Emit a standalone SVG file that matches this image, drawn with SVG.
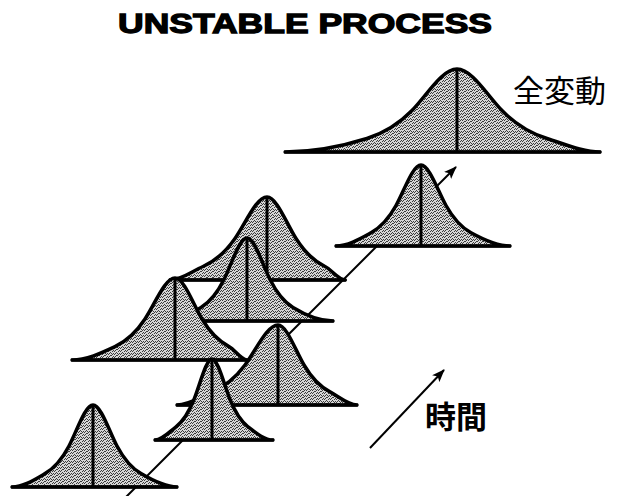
<svg xmlns="http://www.w3.org/2000/svg" width="619" height="496" viewBox="0 0 619 496">
<style>
.curve{fill:url(#stip);stroke:#000;stroke-width:3.5;stroke-linejoin:round}
.ln{stroke:#000;stroke-width:3;fill:none}
.ax{stroke:#000;stroke-width:2;fill:none}
.title{font-family:"Liberation Sans",Arial,sans-serif;font-weight:bold;font-size:28px;fill:#000;stroke:#000;stroke-width:1.3}
.jp{font-family:"Noto Sans CJK JP","Noto Sans CJK SC",sans-serif;font-size:31px;fill:#000}
</style>
<defs>
<pattern id="stip" width="6" height="6" patternUnits="userSpaceOnUse">
<rect width="6" height="6" fill="#d6d6d6"/>
<g fill="#3a3a3a">
<rect x="0" y="0" width="1" height="1"/><rect x="3" y="1" width="1" height="1"/><rect x="1" y="2" width="1" height="1"/>
<rect x="4" y="3" width="1" height="1"/><rect x="2" y="4" width="1" height="1"/><rect x="5" y="5" width="1" height="1"/>
<rect x="0" y="3" width="1" height="1"/><rect x="3" y="5" width="1" height="1"/><rect x="5" y="2" width="1" height="1"/>
<rect x="1" y="5" width="1" height="1"/><rect x="4" y="0" width="1" height="1"/><rect x="2" y="1" width="1" height="1"/>
</g>
</pattern>
<marker id="ah" markerWidth="14" markerHeight="12" refX="12" refY="6" orient="auto" markerUnits="userSpaceOnUse">
<path d="M0,1 L13,6 L0,11 L3,6 Z" fill="#000"/>
</marker>
</defs>
<rect width="619" height="496" fill="#fff"/>
<text class="title" x="305" y="33" text-anchor="middle" textLength="374" lengthAdjust="spacingAndGlyphs">UNSTABLE PROCESS</text>
<g id="connectors">
<path class="ax" d="M125,498 L456,167" marker-end="url(#ah)"/>
<path class="ax" d="M370,448 L444,370" marker-end="url(#ah)"/>
</g>
<g id="curve-total">
<path class="curve" d="M285.1,152 C312.4,152 339.7,147.1 367,138.5 C382,133.7 397,125.9 412,110.5 C427,95.1 442,69 457,69 C472,69 487,95.1 502,110.5 C517,125.9 532,133.7 547,138.5 C564.7,144.1 582.4,152 600.1,152 Z"/>
<line class="ln" x1="457" y1="69" x2="457" y2="152"/>
<line class="ln" x1="284" y1="152" x2="601" y2="152"/>
</g>
<g id="curve-r">
<path class="curve" d="M336,246 C347.7,246 359.3,239.3 371,232.8 C379.3,228.1 387.7,220.5 396,205.5 C404.3,190.5 412.7,165 421,165 C429.3,165 437.7,190.5 446,205.5 C454.3,220.5 462.7,228.1 471,232.8 C484,240 497,246 510,246 Z"/>
<line class="ln" x1="421" y1="165" x2="421" y2="246"/>
<line class="ln" x1="335" y1="246" x2="511" y2="246"/>
</g>
<g id="curve-a">
<path class="curve" d="M170,280 C181,280 192,271.3 203,266.5 C213.7,261.7 224.3,253.9 235,238.5 C245.7,223.1 256.3,197 267,197 C276.7,197 286.3,223.1 296,238.5 C305.7,253.9 315.3,261.7 325,266.5 C331.8,269.8 338.5,280 345.3,280 Z"/>
<line class="ln" x1="267" y1="197" x2="267" y2="280"/>
<line class="ln" x1="169" y1="280" x2="346" y2="280"/>
</g>
<g id="curve-b">
<path class="curve" d="M166.5,321 C178,321 189.5,314.6 201,307.5 C208.7,302.7 216.3,294.9 224,279.5 C231.7,264.1 239.3,238 247,238 C254.7,238 262.3,264.1 270,279.5 C277.7,294.9 285.3,302.7 293,307.5 C306.3,315.7 319.7,321 333,321 Z"/>
<line class="ln" x1="247" y1="238" x2="247" y2="321"/>
<line class="ln" x1="166" y1="321" x2="334" y2="321"/>
</g>
<g id="curve-c">
<path class="curve" d="M72,360 C86.4,360 100.7,353.3 115,346.6 C125,341.9 135,334.2 145,319 C155,303.8 165,278 175,278 C184,278 193,303.8 202,319 C211,334.2 220,341.9 229,346.6 C235,349.8 241.1,360 247,360 Z"/>
<line class="ln" x1="175" y1="278" x2="175" y2="360"/>
<line class="ln" x1="71" y1="360" x2="248" y2="360"/>
</g>
<g id="curve-d">
<path class="curve" d="M177,405 C188.7,405 200.3,396.8 212,391.9 C223,387.4 234,379.8 245,365 C256,350.2 267,325 278,325 C286.7,325 295.3,350.2 304,365 C312.7,379.8 321.3,387.4 330,391.9 C339,396.7 348,405 357,405 Z"/>
<line class="ln" x1="278" y1="325" x2="278" y2="405"/>
<line class="ln" x1="176" y1="405" x2="358" y2="405"/>
</g>
<g id="curve-e">
<path class="curve" d="M155,440 C162,440 169,432.2 176,426.8 C182,422.1 188,414.5 194,399.5 C200,384.5 206,359 212,359 C218,359 224,384.5 230,399.5 C236,414.5 242,422.1 248,426.8 C256.3,433.2 264.7,440 273,440 Z"/>
<line class="ln" x1="212" y1="359" x2="212" y2="440"/>
<line class="ln" x1="154" y1="440" x2="274" y2="440"/>
</g>
<g id="curve-f">
<path class="curve" d="M12,487 C23,487 34,480.1 45,473.6 C53,468.9 61,461.2 69,446 C77,430.8 85,405 93,405 C101,405 109,430.8 117,446 C125,461.2 133,468.9 141,473.6 C153,480.7 165,487 177,487 Z"/>
<line class="ln" x1="93" y1="405" x2="93" y2="487"/>
<line class="ln" x1="11" y1="487" x2="178" y2="487"/>
</g>
<text class="jp" x="513" y="102">全変動</text>
<text class="jp" x="425" y="428" font-weight="bold">時間</text>
</svg>
